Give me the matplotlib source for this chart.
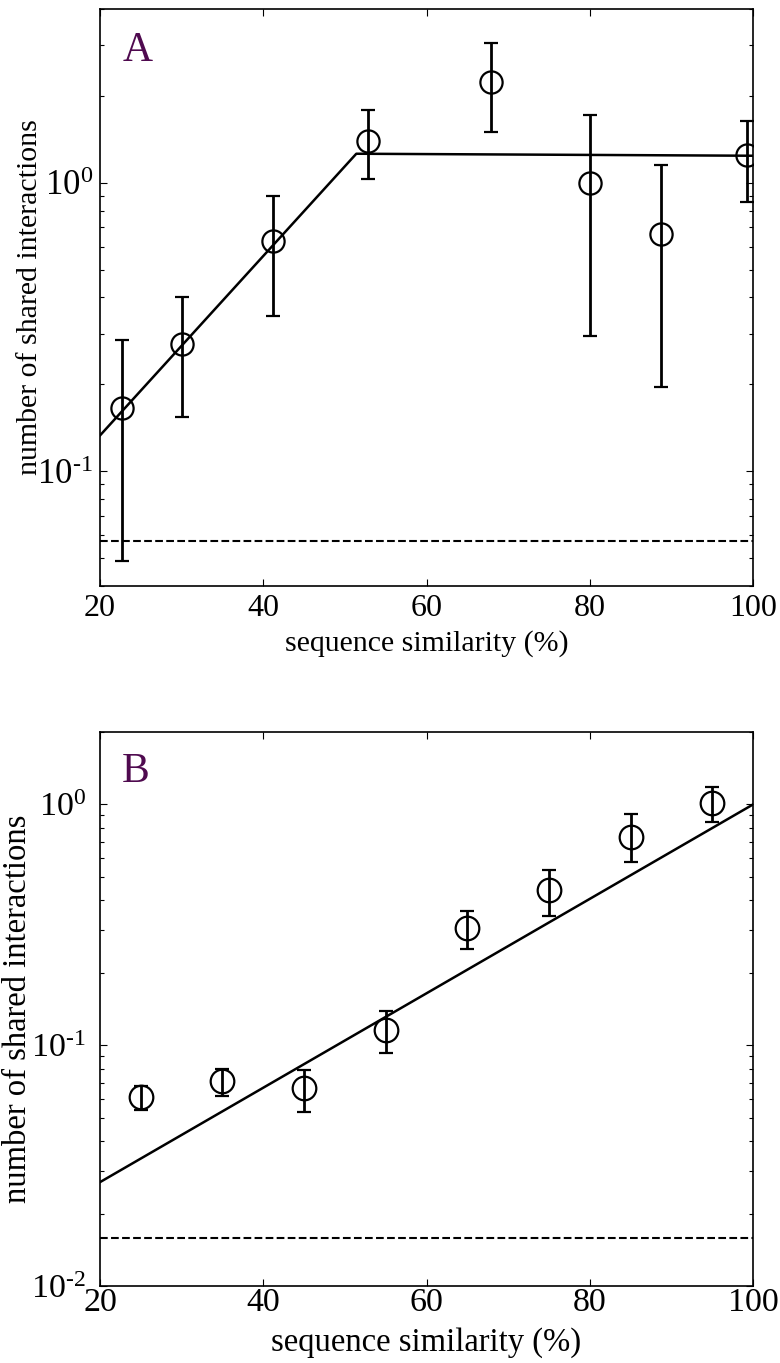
import matplotlib
matplotlib.use("Agg")
import matplotlib.pyplot as plt
from matplotlib.ticker import LogLocator, NullFormatter, FixedLocator, FuncFormatter
import numpy as np

plt.rcParams["font.family"] = ["Liberation Serif", "DejaVu Serif"]
plt.rcParams["mathtext.fontset"] = "custom"
plt.rcParams["mathtext.rm"] = "Liberation Serif"
plt.rcParams["mathtext.default"] = "regular"
plt.rcParams["axes.unicode_minus"] = False

# panel A: shared interactions vs sequence similarity
a_x = [22.7, 30.0, 41.2, 52.8, 67.9, 80.0, 88.7, 99.3]
a_y = [0.166, 0.276, 0.629, 1.40, 2.24, 1.00, 0.665, 1.25]
a_hi = [0.285, 0.402, 0.901, 1.78, 3.04, 1.71, 1.15, 1.64]
a_lo = [0.0487, 0.154, 0.345, 1.03, 1.50, 0.294, 0.196, 0.859]
a_fit_x = [20, 51.4, 100]
a_fit_y = [0.133, 1.26, 1.24]
a_base = 0.0575

# panel B
b_x = [25, 35, 45, 55, 65, 75, 85, 95]
b_y = [0.0607, 0.0708, 0.0662, 0.1155, 0.307, 0.443, 0.736, 1.01]
b_hi = [0.068, 0.080, 0.0787, 0.1387, 0.361, 0.536, 0.917, 1.18]
b_lo = [0.054, 0.0613, 0.053, 0.0926, 0.251, 0.345, 0.579, 0.849]
b_fit_x = [20, 100]
b_fit_y = [0.027, 1.0]
b_base = 0.0158

xticks = [20, 40, 60, 80, 100]

fig = plt.figure(figsize=(7.8, 13.63), dpi=100)
W, H = 780, 1363


def pow10(v, pos):
    e = int(round(np.log10(v)))
    s = str(e).replace("-", "\u2010")
    return "$10^{%s}$" % s


def panel(rect_px, x, y, lo, hi, fx, fy, base, ylim, letter, fs, xfs, yfs, ms, xpad, ypad, lab_y, xlp):
    l, t, r, b = rect_px
    ax = fig.add_axes([l / W, 1 - b / H, (r - l) / W, (b - t) / H])
    ax.set_yscale("log")
    yerr = [[v - lv for v, lv in zip(y, lo)], [hv - v for v, hv in zip(y, hi)]]
    ax.errorbar(x, y, yerr=yerr, fmt="o", ms=ms, mfc="none", mec="k", mew=1.6,
                ecolor="k", elinewidth=2.0, capsize=5, capthick=2.0, zorder=3)
    ax.plot(fx, fy, color="k", lw=1.8, zorder=2)
    ax.axhline(base, color="k", lw=1.5, ls="--", zorder=1)
    ax.set_xlim(20, 100)
    ax.set_ylim(*ylim)
    ax.xaxis.set_major_locator(FixedLocator(xticks))
    ax.yaxis.set_major_locator(LogLocator(base=10, numticks=10))
    ax.yaxis.set_major_formatter(FuncFormatter(pow10))
    ax.yaxis.set_minor_locator(LogLocator(base=10, subs=range(2, 10), numticks=10))
    ax.yaxis.set_minor_formatter(NullFormatter())
    ax.tick_params(which="both", direction="in", top=True, right=True, width=0.8)
    ax.tick_params(which="major", length=5)
    ax.tick_params(which="minor", length=3)
    ax.tick_params(axis="x", pad=xpad, labelsize=xfs)
    ax.tick_params(axis="y", pad=ypad, labelsize=yfs)
    for s in ax.spines.values():
        s.set_linewidth(1.2)
    ax.set_xlabel("sequence similarity (%)", fontsize=fs, labelpad=xlp)
    ax.set_ylabel("number of shared interactions", fontsize=fs)
    ax.yaxis.set_label_coords(lab_y, 0.5)
    ax.text(0.034, 0.91, letter, transform=ax.transAxes, fontsize=30,
            color="#4f0a4f", va="baseline")
    return ax


panel((100, 9, 753, 586), a_x, a_y, a_lo, a_hi, a_fit_x, a_fit_y, a_base,
      (0.04, 4), "A", 21.5, 23, 25, 16, 6, 5, -0.088, 5)
panel((100, 732, 753, 1286), b_x, b_y, b_lo, b_hi, b_fit_x, b_fit_y, b_base,
      (0.01, 2), "B", 23.5, 24.5, 24.5, 17, 1, 10, -0.102, 7)

fig.savefig("out.png", dpi=100)
